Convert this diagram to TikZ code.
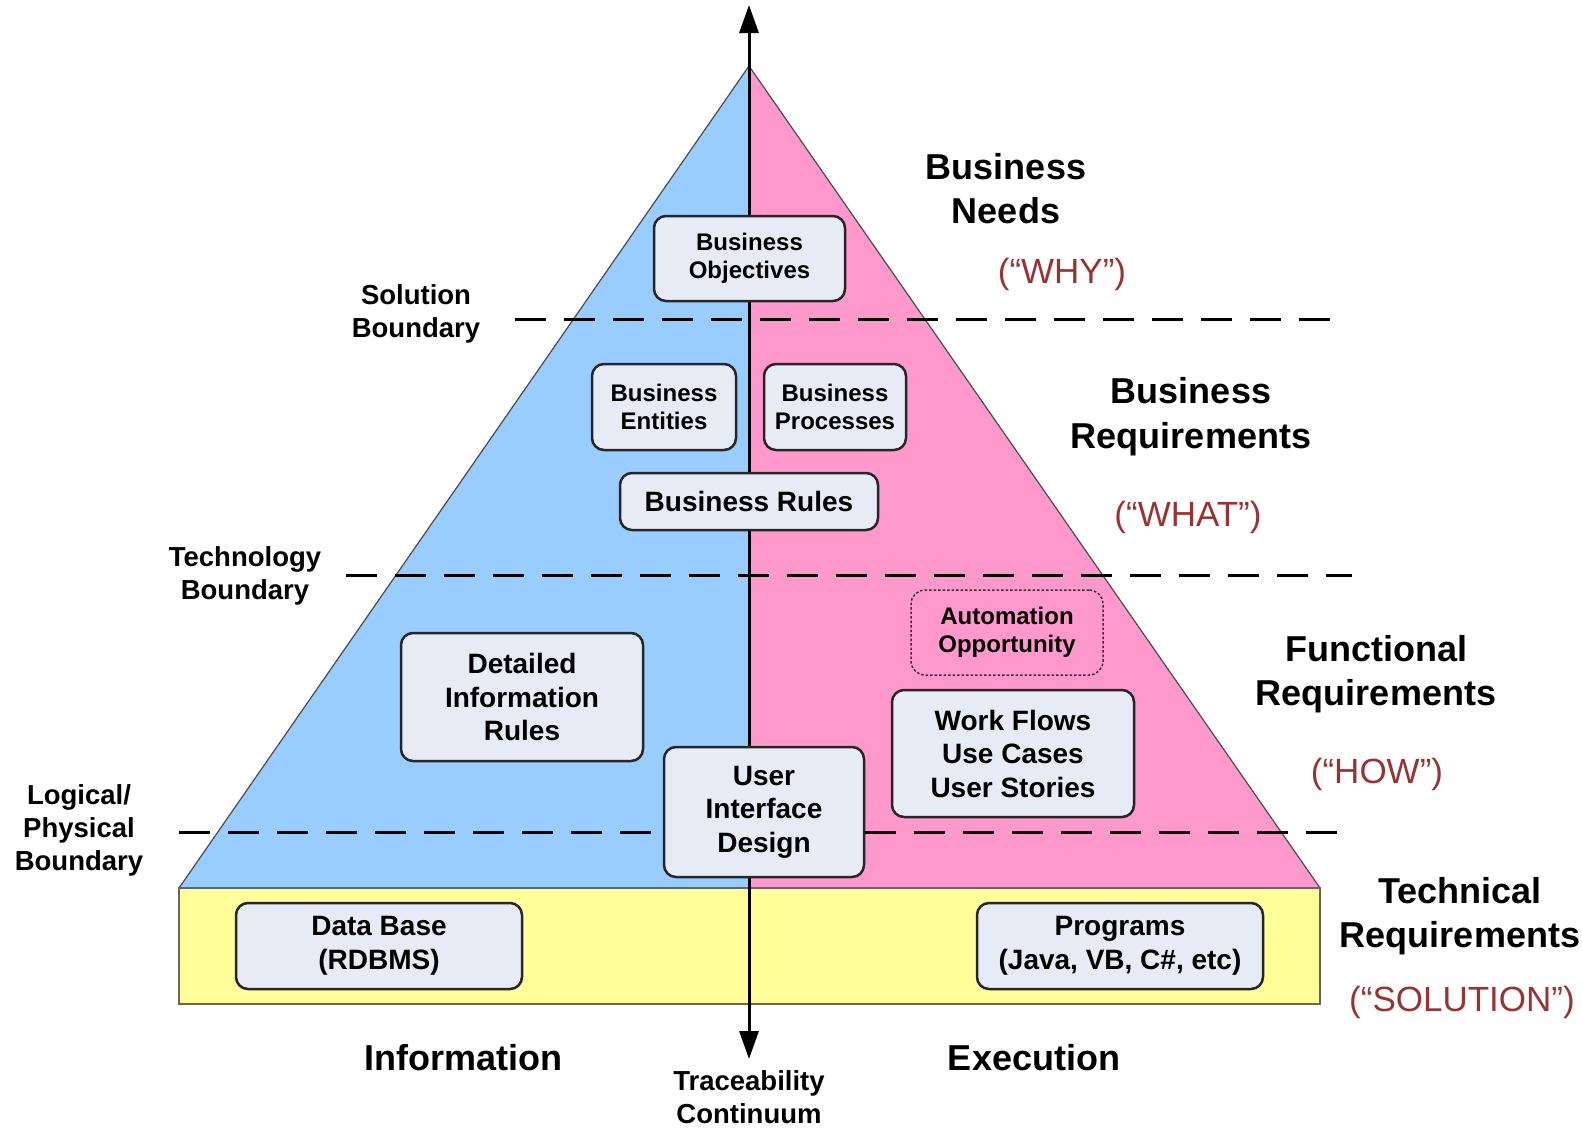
\documentclass[tikz,border=0pt]{standalone}
\usepackage{fontspec}
\setmainfont{Liberation Sans}
\usetikzlibrary{arrows.meta}
\definecolor{leftblue}{HTML}{99CCFF}
\definecolor{rightpink}{HTML}{FF99CC}
\definecolor{baseyellow}{HTML}{FFFF99}
\definecolor{boxfill}{HTML}{E6EBF5}
\definecolor{whyred}{HTML}{993333}

\begin{document}
\begin{tikzpicture}[x=1pt, y=-1pt,
    reqbox/.style={draw=black!85, line width=2.5pt, fill=boxfill, rounded corners=12pt,
        align=center, inner sep=0pt, font=\bfseries\fontsize{28}{33.5}\selectfont},
    smallbox/.style={reqbox, font=\bfseries\fontsize{24}{28.5}\selectfont},
    bndline/.style={line width=3pt, dash pattern=on 31pt off 18pt},
    lvllabel/.style={align=center, font=\bfseries\fontsize{36}{44.5}\selectfont},
    whylabel/.style={text=whyred, font=\fontsize{35}{42}\selectfont},
    bndlabel/.style={align=center, font=\bfseries\fontsize{27.5}{33}\selectfont},
    axisline/.style={line width=3pt, {Triangle[length=28pt,width=19pt]}-{Triangle[length=28pt,width=19pt]}}
]
    \useasboundingbox (0,0) rectangle (1582,1130);

    % Pyramid
    \coordinate (apex) at (749,66);
    \coordinate (baseL) at (179,888);
    \coordinate (baseM) at (749,888);
    \coordinate (baseR) at (1320,888);
    \fill[leftblue] (apex) -- (baseL) -- (baseM) -- cycle;
    \fill[rightpink] (apex) -- (baseM) -- (baseR) -- cycle;
    \draw[black!70, line width=1.2pt] (baseL) -- (apex) -- (baseR);

    % Solution layer
    \draw[black!60, line width=1.5pt, fill=baseyellow] (179,888) rectangle (1320,1004);

    % Boundaries
    \coordinate (solL) at (515,319);
    \coordinate (solR) at (1332,319);
    \coordinate (techL) at (346,575);
    \coordinate (techR) at (1352,575);
    \coordinate (physL) at (179,832);
    \coordinate (physR) at (1352,832);
    \draw[bndline] (solL) -- (solR);
    \draw[bndline] (techL) -- (techR);
    \draw[bndline] (physL) -- (physR);

    % Traceability axis
    \coordinate (axtop) at (749,5);
    \coordinate (axbot) at (749,1059);
    \draw[axisline] (axbot) -- (axtop);

    % Boxes
    \node[smallbox, minimum width=191pt, minimum height=85pt] (objectives) at (749.5,258.5) {Business\\Objectives};
    \node[smallbox, minimum width=144pt, minimum height=86pt] (entities) at (664,407) {Business\\Entities};
    \node[smallbox, minimum width=142pt, minimum height=86pt] (processes) at (835,407) {Business\\Processes};
    \node[reqbox, minimum width=258pt, minimum height=57pt] (rules) at (749,501.5) {Business Rules};
    \node[reqbox, minimum width=242pt, minimum height=128pt] (inforules) at (522,697) {Detailed\\Information\\Rules};
    \node[smallbox, draw=black!80, line width=1.5pt, dash pattern=on 2.5pt off 2pt, fill=none,
        rounded corners=14pt, minimum width=192pt, minimum height=85pt] (automation) at (1007,632.5) {Automation\\Opportunity};
    \node[reqbox, minimum width=242pt, minimum height=127pt] (workflows) at (1013,753.5) {Work Flows\\Use Cases\\User Stories};
    \node[reqbox, minimum width=200pt, minimum height=130pt] (uidesign) at (764,812) {User\\Interface\\Design};
    \node[reqbox, minimum width=286pt, minimum height=86pt] (database) at (379,946) {Data Base\\(RDBMS)};
    \node[reqbox, minimum width=286pt, minimum height=86pt] (programs) at (1120,946) {Programs\\(Java, VB, C\#, etc)};

    % Level labels
    \node[lvllabel] (needs) at (1006,188.5) {Business\\Needs};
    \node[whylabel] (why) at (1062,274) {(“WHY”)};
    \node[lvllabel] (busreq) at (1191,416.5) {Business\\Requirements};
    \node[whylabel] (what) at (1188,517) {(“WHAT”)};
    \node[lvllabel] (funcreq) at (1376,674) {Functional\\Requirements};
    \node[whylabel] (how) at (1377,774) {(“HOW”)};
    \node[lvllabel] (techreq) at (1460,916) {Technical\\Requirements};
    \node[whylabel] (solution) at (1462,1002) {(“SOLUTION”)};
    \node[lvllabel] (information) at (463,1058) {Information};
    \node[lvllabel] (execution) at (1034,1058) {Execution};
    \node[bndlabel] (continuum) at (749,1097) {Traceability\\Continuum};

    % Boundary labels
    \node[bndlabel] (solbnd) at (416,313.5) {Solution\\Boundary};
    \node[bndlabel] (techbnd) at (245,575.5) {Technology\\Boundary};
    \node[bndlabel] (physbnd) at (79,830) {Logical/\\Physical\\Boundary};
\end{tikzpicture}
\end{document}
